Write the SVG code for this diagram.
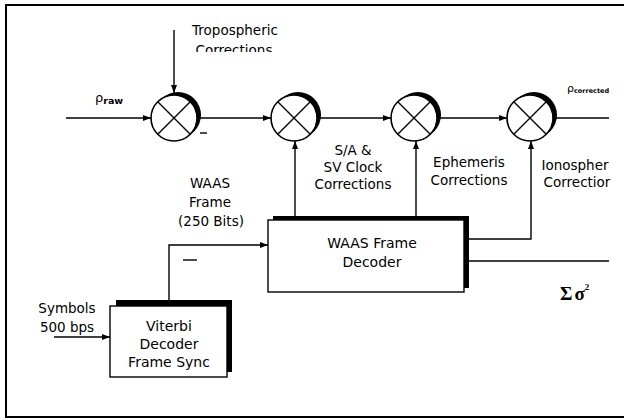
<svg xmlns="http://www.w3.org/2000/svg" width="624" height="420" viewBox="0 0 624 420">
<style>
  .lbl { font-family: "DejaVu Sans", "Liberation Sans", sans-serif; font-size: 13.5px; fill: #000; text-anchor: middle; }
  .box-t { font-family: "DejaVu Sans", "Liberation Sans", sans-serif; font-size: 14px; fill: #000; text-anchor: middle; }
  .wire { fill: none; stroke: #000; stroke-width: 1.4; }
  .mult-bg { fill: #000; }
  .mult { fill: #fff; stroke: #000; stroke-width: 1.6; }
  .xline { stroke: #000; stroke-width: 1.4; }
  .box { fill: #fff; stroke: #000; stroke-width: 1.4; }
  .shadow { fill: #000; }
</style>
<defs>
  <marker id="arr" markerUnits="userSpaceOnUse" markerWidth="9" markerHeight="7" refX="8" refY="3" orient="auto">
    <path d="M0,0 L8,3 L0,6 z" fill="#000"/>
  </marker>
  <clipPath id="clipRight"><rect x="0" y="0" width="609" height="420"/></clipPath>
  <clipPath id="clipTropo"><rect x="0" y="0" width="624" height="52"/></clipPath>
</defs>
<rect x="0" y="0" width="624" height="420" fill="#fff"/>
<g id="frame">
  <path d="M624,5 H6 V417 H624" fill="none" stroke="#000" stroke-width="2"/>
</g>

<g id="connectors">
  <path class="wire" d="M66,118 H151" marker-end="url(#arr)"/>
  <path class="wire" d="M197,118 H271" marker-end="url(#arr)"/>
  <path class="wire" d="M317,118 H391" marker-end="url(#arr)"/>
  <path class="wire" d="M437,118 H507" marker-end="url(#arr)"/>
  <path class="wire" d="M553,118 H609"/>
  <path class="wire" d="M174,30 V93" marker-end="url(#arr)"/>
  <path class="wire" d="M295,216 V141" marker-end="url(#arr)"/>
  <path class="wire" d="M416,216 V141" marker-end="url(#arr)"/>
  <path class="wire" d="M469,239 H531 V141" marker-end="url(#arr)"/>
  <path class="wire" d="M469,261 H609"/>
  <path class="wire" d="M169,300 V245 H268" marker-end="url(#arr)"/>
  <path class="wire" d="M54,337 H110" marker-end="url(#arr)"/>
  <path class="wire" d="M200,133 H207"/>
  <path class="wire" d="M183,260 H197"/>
</g>

<g id="mult1">
  <circle class="mult-bg" cx="178" cy="115" r="23"/>
  <circle class="mult" cx="174" cy="118" r="23"/>
  <path class="xline" d="M158,102 L190,134 M190,102 L158,134"/>
</g>
<g id="mult2">
  <circle class="mult-bg" cx="298" cy="115" r="23"/>
  <circle class="mult" cx="294" cy="118" r="23"/>
  <path class="xline" d="M278,102 L310,134 M310,102 L278,134"/>
</g>
<g id="mult3">
  <circle class="mult-bg" cx="418" cy="115" r="23"/>
  <circle class="mult" cx="414" cy="118" r="23"/>
  <path class="xline" d="M398,102 L430,134 M430,102 L398,134"/>
</g>
<g id="mult4">
  <circle class="mult-bg" cx="534" cy="115" r="23"/>
  <circle class="mult" cx="530" cy="118" r="23"/>
  <path class="xline" d="M514,102 L546,134 M546,102 L514,134"/>
</g>

<g id="waas-decoder">
  <rect class="shadow" x="273" y="216" width="196" height="72"/>
  <rect class="box" x="268" y="220" width="196" height="72"/>
  <text class="box-t" x="372" y="248">WAAS Frame</text>
  <text class="box-t" x="372" y="267">Decoder</text>
</g>

<g id="viterbi">
  <rect class="shadow" x="116" y="300" width="116" height="72"/>
  <rect class="box" x="110" y="306" width="117" height="71"/>
  <text class="box-t" x="169" y="331">Viterbi</text>
  <text class="box-t" x="169" y="349">Decoder</text>
  <text class="box-t" x="169" y="367">Frame Sync</text>
</g>

<g id="labels">
  <text class="lbl" x="235" y="35">Tropospheric</text>
  <text class="lbl" x="234" y="55" clip-path="url(#clipTropo)">Corrections</text>
  <text x="95" y="102" style="font-family:'DejaVu Sans',sans-serif;font-size:13px;">ρ<tspan dy="2" style="font-size:9.5px;font-weight:bold;">raw</tspan></text>
  <g clip-path="url(#clipRight)">
    <text x="567" y="92" style="font-family:'DejaVu Sans',sans-serif;font-size:11px;">ρ<tspan dy="1" style="font-size:6.5px;font-weight:bold;">corrected</tspan></text>
  </g>
  <text class="lbl" x="210" y="188">WAAS</text>
  <text class="lbl" x="210" y="207">Frame</text>
  <text class="lbl" x="211" y="226">(250 Bits)</text>
  <text class="lbl" x="353" y="155">S/A &amp;</text>
  <text class="lbl" x="353" y="172">SV Clock</text>
  <text class="lbl" x="353" y="189">Corrections</text>
  <text class="lbl" x="469" y="167">Ephemeris</text>
  <text class="lbl" x="469" y="185">Corrections</text>
  <text class="lbl" x="575" y="170">Ionospher</text>
  <text class="lbl" x="577" y="187">Correctior</text>
  <text class="lbl" x="67" y="313">Symbols</text>
  <text class="lbl" x="67" y="332">500 bps</text>
  <text x="560" y="300" style="font-family:'Liberation Serif',serif;font-size:19px;font-weight:bold;">Σ<tspan dx="2">σ</tspan><tspan dy="-10" style="font-size:9px;">2</tspan></text>
</g>
</svg>
